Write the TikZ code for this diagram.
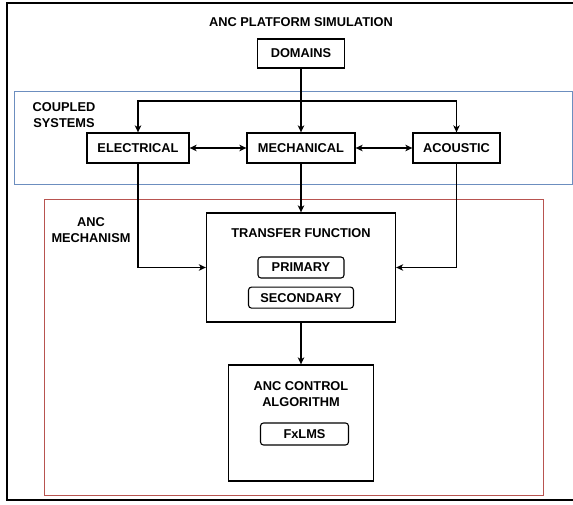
\documentclass[tikz,border=0pt]{standalone}
\usepackage{fontspec}
\setmainfont{Liberation Sans}
\usepackage{xcolor}
\usepackage{tikz}
\usetikzlibrary{arrows.meta}
\usetikzlibrary{positioning}
\definecolor{coupledblue}{HTML}{6C8EBF}
\definecolor{ancred}{HTML}{B85450}
\tikzset{block/.style ={draw, line width=1.3pt, minimum height=30pt, inner sep=0pt}}
\tikzset{tag/.style ={draw, line width=1.1pt, rounded corners=3pt, minimum height=21pt, inner sep=0pt}}
\tikzset{lbl/.style ={align=center, inner sep=0pt}}
\tikzset{link/.style ={line width=1.3pt, ->}}
\tikzset{twoway/.style ={line width=1.3pt, <->}}

\begin{document}
\begin{tikzpicture}[x=1pt, y=-1pt, font=\bfseries\fontsize{12.8}{16}\selectfont,
  >={Stealth[length=7pt, width=6.5pt, inset=2pt]}]
\useasboundingbox (0,0) rectangle (573,505);
\draw[line width=1.3pt] (7,3) rectangle (580,500);
\draw[coupledblue, line width=0.8pt] (14,91) rectangle (572,184);
\draw[ancred, line width=0.8pt] (44,199) rectangle (543,495);

\node[lbl] (title) at (301,22) {ANC PLATFORM SIMULATION};
\node[block, minimum width=87pt, minimum height=29pt] (domains) at (301,53.5) {DOMAINS};

\node[lbl] (coupled) at (64,115.5) {COUPLED\\SYSTEMS};
\node[block, minimum width=108pt] (mechanical) at (301,148) {MECHANICAL};
\node[block, minimum width=102pt] (electrical) at (138,148) {ELECTRICAL};
\node[block, minimum width=87pt] (acoustic) at (456.5,148) {ACOUSTIC};

\node[lbl] (ancmech) at (91,230.5) {ANC\\MECHANISM};
\node[block, minimum width=189pt, minimum height=109pt] (transfer) at (301,267.5) {};
\node[lbl, below=16pt of transfer.north] (tftitle) {TRANSFER FUNCTION};
\node[tag, minimum width=86pt] (primary) at (301,267.5) {PRIMARY};
\node[tag, minimum width=105pt, below=8pt of primary] (secondary) {SECONDARY};

\node[block, minimum width=145pt, minimum height=116pt] (control) at (301,423) {};
\node[lbl, below=17pt of control.north] (ctitle) {ANC CONTROL\\ALGORITHM};
\node[tag, minimum width=88pt, minimum height=22pt] (fxlms) at (304.5,434) {FxLMS};

\coordinate (split) at (301,101);
\draw[link] (domains) -- (mechanical);
\draw[link] (split) -| (electrical);
\draw[link] (split) -| (acoustic);
\draw[twoway] (electrical) -- (mechanical);
\draw[twoway] (mechanical) -- (acoustic);
\draw[link] (electrical) |- (transfer);
\draw[link] (mechanical) -- (transfer);
\draw[link] (acoustic) |- (transfer);
\draw[link] (transfer) -- (control);
\end{tikzpicture}
\end{document}
